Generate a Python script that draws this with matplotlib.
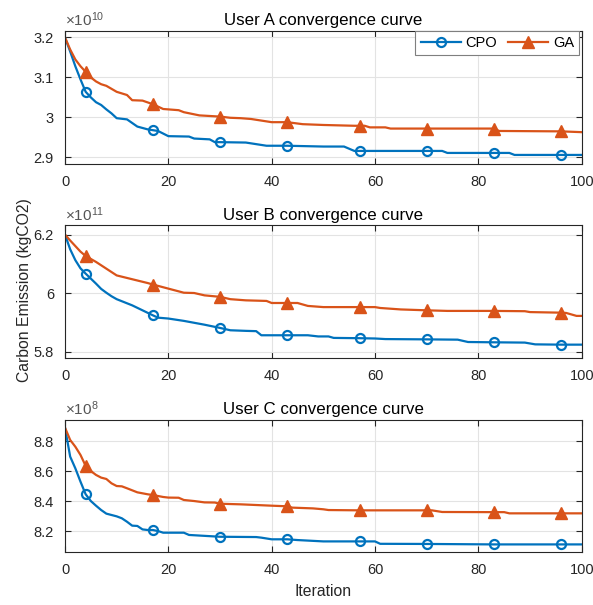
import matplotlib
matplotlib.use("Agg")
import matplotlib.pyplot as plt
from matplotlib.ticker import FuncFormatter

plt.rcParams['font.family'] = ['Liberation Sans', 'DejaVu Sans']
plt.rcParams['mathtext.fontset'] = 'custom'
plt.rcParams['mathtext.rm'] = 'Liberation Sans'

# iterations where markers are drawn
mark_iters = [4, 17, 30, 43, 57, 70, 83, 96]

# User A (x 1e10 kgCO2)
cpo_a_it = [0, 1, 2, 3, 4, 5, 6, 7, 8, 9, 10, 12, 14, 16, 17, 18, 20, 24, 25, 28, 29, 30, 35, 39, 43, 50, 54, 56, 57, 70, 73, 74, 83, 86, 87, 96, 100]
cpo_a = [3.2, 3.165, 3.128, 3.095, 3.064, 3.05, 3.038, 3.031, 3.02, 3.01, 2.998, 2.995, 2.977, 2.97, 2.968, 2.966, 2.953, 2.952, 2.947, 2.945, 2.938, 2.938, 2.937, 2.929, 2.929, 2.927, 2.927, 2.916, 2.916, 2.916, 2.916, 2.911, 2.911, 2.911, 2.906, 2.906, 2.906]
ga_a_it = [0, 1, 2, 3, 4, 5, 6, 7, 8, 10, 12, 13, 15, 17, 19, 22, 23, 26, 30, 32, 34, 36, 38, 40, 43, 46, 50, 56, 57, 58, 59, 62, 63, 70, 83, 84, 96, 100]
ga_a = [3.2, 3.17, 3.145, 3.128, 3.114, 3.1, 3.09, 3.083, 3.079, 3.064, 3.056, 3.043, 3.042, 3.033, 3.021, 3.018, 3.013, 3.005, 3.002, 2.999, 2.998, 2.996, 2.992, 2.988, 2.988, 2.983, 2.981, 2.979, 2.979, 2.979, 2.975, 2.975, 2.972, 2.972, 2.972, 2.966, 2.965, 2.963]

# User B (x 1e11 kgCO2)
cpo_b_it = [0, 1, 2, 3, 4, 5, 6, 7, 8, 9, 10, 13, 15, 17, 18, 20, 23, 27, 30, 32, 35, 37, 38, 43, 47, 49, 51, 52, 57, 60, 62, 70, 76, 78, 83, 89, 91, 96, 100]
cpo_b = [6.2, 6.15, 6.113, 6.085, 6.067, 6.05, 6.033, 6.015, 6.002, 5.99, 5.98, 5.959, 5.942, 5.925, 5.917, 5.914, 5.906, 5.893, 5.882, 5.874, 5.872, 5.871, 5.857, 5.857, 5.857, 5.853, 5.853, 5.848, 5.847, 5.846, 5.844, 5.843, 5.842, 5.834, 5.833, 5.832, 5.826, 5.825, 5.825]
ga_b_it = [0, 1, 2, 3, 4, 6, 8, 10, 13, 16, 17, 20, 23, 25, 27, 30, 32, 35, 39, 40, 43, 45, 47, 50, 57, 60, 61, 65, 70, 74, 83, 89, 90, 96, 97, 99, 100]
ga_b = [6.2, 6.18, 6.161, 6.142, 6.127, 6.107, 6.084, 6.061, 6.048, 6.035, 6.03, 6.016, 6.002, 6.001, 5.993, 5.988, 5.98, 5.976, 5.974, 5.967, 5.967, 5.967, 5.957, 5.953, 5.953, 5.953, 5.95, 5.945, 5.942, 5.94, 5.94, 5.939, 5.936, 5.934, 5.933, 5.923, 5.923]

# User C (x 1e8 kgCO2)
cpo_c_it = [0, 1, 2, 3, 4, 5, 6, 7, 8, 9, 10, 11, 12, 13, 14, 15, 16, 17, 18, 19, 23, 24, 30, 37, 38, 40, 43, 45, 50, 57, 60, 61, 70, 83, 96, 100]
cpo_c = [8.891, 8.698, 8.62, 8.531, 8.447, 8.402, 8.371, 8.342, 8.318, 8.309, 8.3, 8.287, 8.264, 8.238, 8.236, 8.213, 8.209, 8.209, 8.202, 8.191, 8.191, 8.176, 8.164, 8.162, 8.158, 8.147, 8.147, 8.142, 8.133, 8.133, 8.133, 8.117, 8.116, 8.113, 8.113, 8.113]
ga_c_it = [0, 1, 2, 3, 4, 5, 6, 7, 8, 9, 10, 11, 12, 14, 16, 17, 19, 20, 22, 23, 25, 27, 29, 30, 34, 40, 43, 44, 48, 50, 51, 57, 70, 71, 73, 83, 85, 86, 96, 100]
ga_c = [8.891, 8.809, 8.764, 8.709, 8.636, 8.602, 8.576, 8.558, 8.549, 8.52, 8.502, 8.5, 8.487, 8.46, 8.447, 8.442, 8.429, 8.425, 8.424, 8.409, 8.402, 8.393, 8.392, 8.384, 8.38, 8.371, 8.367, 8.358, 8.353, 8.347, 8.342, 8.34, 8.34, 8.34, 8.329, 8.328, 8.328, 8.32, 8.32, 8.32]

titles = ['User A convergence curve', 'User B convergence curve', 'User C convergence curve']
exponents = [10, 11, 8]
yticks = [[2.9, 3.0, 3.1, 3.2], [5.8, 6.0, 6.2], [8.2, 8.4, 8.6, 8.8]]
ylims = [(2.8833, 3.2175), (5.7795, 6.2318), (8.0644, 8.944)]

series = [(cpo_a_it, cpo_a, ga_a_it, ga_a),
          (cpo_b_it, cpo_b, ga_b_it, ga_b),
          (cpo_c_it, cpo_c, ga_c_it, ga_c)]

blue = '#0072BD'
orange = '#D95319'
axcol = '#262626'

fig = plt.figure(figsize=(5.93, 6.05), dpi=100)
W, H = 593, 605
boxes = [(30.5, 164), (225.3, 358), (419.7, 551.7)]
left, right = 65, 581.7

for i, (top, bot) in enumerate(boxes):
    ax = fig.add_axes([left / W, 1 - bot / H, (right - left) / W, (bot - top) / H])
    c_it, c_v, g_it, g_v = series[i]
    ax.plot(c_it, c_v, color=blue, lw=1.6, marker='o', ms=6.5, mfc='none', mew=1.6,
            markevery=[c_it.index(m) for m in mark_iters], label='CPO')
    ax.plot(g_it, g_v, color=orange, lw=1.6, marker='^', ms=8, mfc=orange, mec=orange,
            markevery=[g_it.index(m) for m in mark_iters], label='GA')
    ax.set_xlim(0, 100)
    ax.set_ylim(*ylims[i])
    ax.set_xticks(range(0, 101, 20))
    ax.set_yticks(yticks[i])
    ax.yaxis.set_major_formatter(FuncFormatter(lambda v, p: '%g' % round(v, 3)))
    ax.grid(True, color='#e3e3e3', lw=0.8)
    ax.set_axisbelow(True)
    ax.tick_params(direction='in', length=4.5, width=0.8, top=True, right=True,
                   labelsize=10.5, colors=axcol, pad=8)
    for s in ax.spines.values():
        s.set_color(axcol)
        s.set_linewidth(0.8)
    ax.set_title(titles[i], fontsize=12.2, color='black', pad=4)
    ax.text(0, 1.012, r'$\mathregular{\times10^{%d}}$' % exponents[i], transform=ax.transAxes,
            fontsize=11, color='#555555', ha='left', va='bottom')
    if i == 0:
        leg = ax.legend(loc='upper right', bbox_to_anchor=(1 - 2.7 / (right - left), 1),
                        ncol=2, fontsize=10.5, frameon=True, fancybox=False,
                        handlelength=2.8, columnspacing=0.7, handletextpad=0.3,
                        borderaxespad=0, borderpad=0.35, framealpha=1)
        leg.get_frame().set_edgecolor('#7f7f7f')
        leg.get_frame().set_linewidth(0.8)
    if i == 2:
        ax.set_xlabel('Iteration', fontsize=11.3, color=axcol, labelpad=5)

fig.text(25 / W, 1 - 290 / H, 'Carbon Emission (kgCO2)', rotation=90, fontsize=11.3,
         color=axcol, ha='center', va='center')

fig.savefig('out.png', dpi=100)
